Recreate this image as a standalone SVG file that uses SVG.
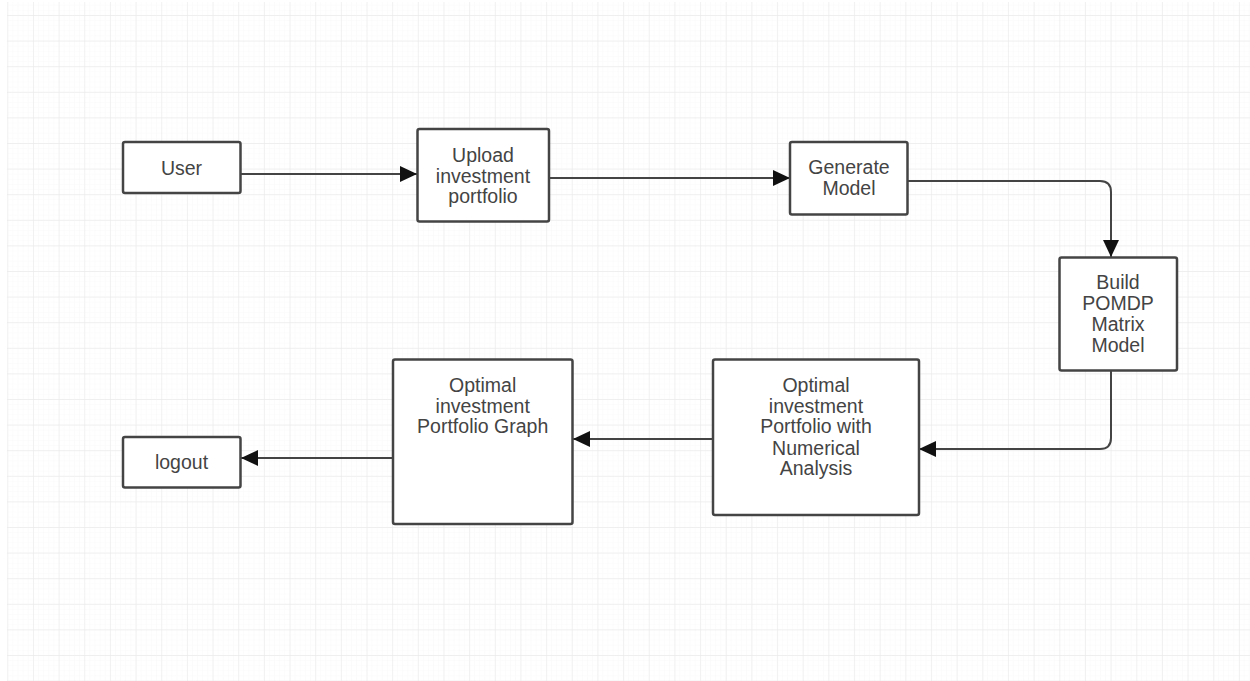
<svg xmlns="http://www.w3.org/2000/svg" width="1250" height="681" viewBox="0 0 1250 681">
  <defs>
    <pattern id="minor" patternUnits="userSpaceOnUse" x="7.3" y="15" width="5.13" height="5.12">
      <path d="M0,0 V5.12 M0,0 H5.13" fill="none" stroke="#f9f9f9" stroke-width="1"/>
    </pattern>
    <pattern id="major" patternUnits="userSpaceOnUse" x="7.3" y="15" width="25.66" height="25.6">
      <path d="M0,0 V25.6 M0,0 H25.66" fill="none" stroke="#ebebeb" stroke-width="1.3"/>
    </pattern>
    <marker id="arrow" markerUnits="userSpaceOnUse" markerWidth="17" markerHeight="16" refX="17" refY="8" orient="auto">
      <path d="M0,0 L17,8 L0,16 z" fill="#111"/>
    </marker>
    <style>
      .box { fill: #ffffff; stroke: #444444; stroke-width: 2.5; }
      .lbl { font-family: "Liberation Sans", Arial, sans-serif; font-size: 19.5px; fill: #444444; text-anchor: middle; }
      .conn { fill: none; stroke: #444444; stroke-width: 2; marker-end: url(#arrow); }
    </style>
  </defs>

  <rect x="0" y="0" width="1250" height="681" fill="#ffffff"/>
  <rect x="7" y="2" width="1243" height="679" fill="url(#minor)"/>
  <rect x="7" y="2" width="1243" height="679" fill="url(#major)"/>

  <g id="connectors">
    <path class="conn" d="M241,174 H417"/>
    <path class="conn" d="M549,178 H790"/>
    <path class="conn" d="M908,181 H1100 Q1111,181 1111,192 V257"/>
    <path class="conn" d="M1111,371 V438 Q1111,449 1100,449 H919"/>
    <path class="conn" d="M713,439 H573"/>
    <path class="conn" d="M393,458 H241"/>
  </g>

  <g id="user">
    <rect class="box" x="123" y="142" width="117.5" height="51" rx="2"/>
    <text class="lbl" x="181.5" y="174.5">User</text>
  </g>

  <g id="upload">
    <rect class="box" x="417.5" y="129" width="131.5" height="92.5" rx="2"/>
    <text class="lbl" x="483" y="161.7">Upload</text>
    <text class="lbl" x="483" y="182.5">investment</text>
    <text class="lbl" x="483" y="203">portfolio</text>
  </g>

  <g id="generate">
    <rect class="box" x="790" y="142" width="117.5" height="72.5" rx="2"/>
    <text class="lbl" x="849" y="174.3">Generate</text>
    <text class="lbl" x="849" y="195">Model</text>
  </g>

  <g id="build">
    <rect class="box" x="1059.5" y="257.5" width="117.5" height="113" rx="2"/>
    <text class="lbl" x="1118" y="289">Build</text>
    <text class="lbl" x="1118" y="310">POMDP</text>
    <text class="lbl" x="1118" y="330.7">Matrix</text>
    <text class="lbl" x="1118" y="351.7">Model</text>
  </g>

  <g id="numerical">
    <rect class="box" x="713" y="359.5" width="206" height="155.5" rx="2"/>
    <text class="lbl" x="816" y="391.7">Optimal</text>
    <text class="lbl" x="816" y="412.5">investment</text>
    <text class="lbl" x="816" y="433.3">Portfolio with</text>
    <text class="lbl" x="816" y="454.5">Numerical</text>
    <text class="lbl" x="816" y="475">Analysis</text>
  </g>

  <g id="graph">
    <rect class="box" x="393" y="359.5" width="179.5" height="164.5" rx="2"/>
    <text class="lbl" x="482.7" y="391.7">Optimal</text>
    <text class="lbl" x="482.7" y="412.5">investment</text>
    <text class="lbl" x="482.7" y="433.3">Portfolio Graph</text>
  </g>

  <g id="logout">
    <rect class="box" x="123" y="437" width="117.5" height="50.5" rx="2"/>
    <text class="lbl" x="181.5" y="469">logout</text>
  </g>
</svg>
